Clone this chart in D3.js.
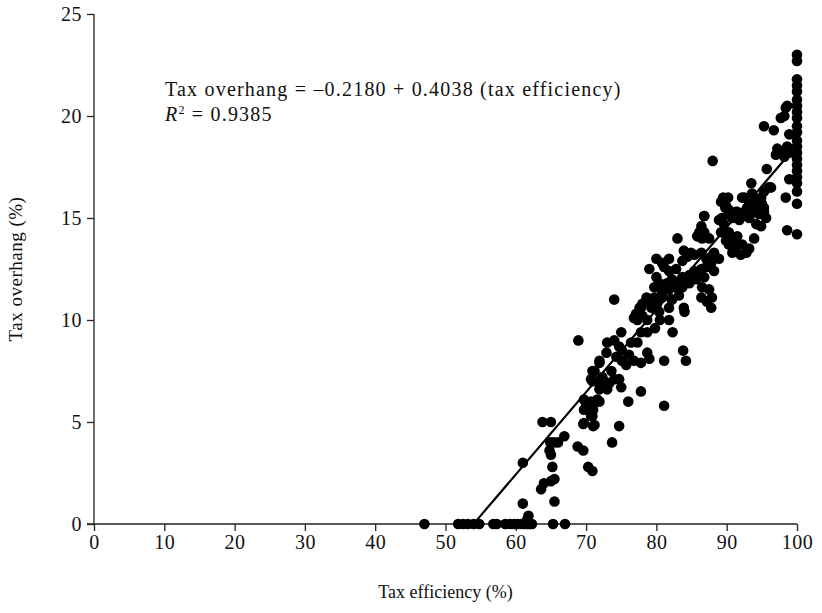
<!DOCTYPE html>
<html>
<head>
<meta charset="utf-8">
<script src="https://cdn.jsdelivr.net/npm/d3@7"></script>
<style>
  html, body { margin: 0; padding: 0; background: #fff; }
  svg { display: block; font-family: "Liberation Serif", "DejaVu Serif", serif; }
</style>
</head>
<body>
<svg id="chart" width="822" height="613"></svg>
<script>
// Tax efficiency (%) and tax overhang (%) for each observation
const taxEfficiency = [
  47, 51.8, 52.5, 53.2, 54, 54.8, 56.8, 57.3, 58.5, 59.2, 59.8, 60.3, 60.8, 61.2, 61.6, 62, 62.3, 65.3, 67,
  61.0, 61.0, 61.8, 61.6, 63.6, 64.0, 65.0, 65.5, 65.2, 65.5, 65.0, 64.8, 64.9, 65.4, 66.0, 66.9, 63.8, 65.0,
  68.8, 69.6, 70.3, 70.9, 69.6, 71.0, 70.9, 71.0, 70.0, 70.7, 71.9, 73.7, 74.7, 81.1, 76.0,
  74.0, 68.9, 77.8, 81.1, 82.3, 84.0, 83.8, 84.2, 70.9, 70.9, 71.9, 72.9, 73.0, 74.0, 75.0, 74.7, 75.1, 74.3,
  75.1, 75.7, 73.6, 74.0, 73.3, 73.0, 74.7, 75.0, 72.3, 71.4, 70.7, 71.9, 69.7, 70.0, 70.9, 71.6, 70.7,
  76.4, 77.3, 77.8, 78.7, 76.8, 77.8, 78.7, 79.0, 77.1, 77.3, 76.8, 78.0, 78.7, 77.8, 78.0, 79.0, 78.6, 79.7,
  79.3, 80.1, 80.8, 81.8, 82.2, 83.2, 80.4, 81.8, 72.6, 76.1, 69.7, 71.2, 69.7, 71.9, 71.2, 80.5, 79.8,
  83.0, 86.8, 86.4, 86.1, 86.8, 85.8, 87.5, 86.5,
  89.2, 89.9, 90.3, 89.3, 88.9, 89.6, 90.8, 91.5, 91.8, 92.8, 93.2, 93.9, 94.6, 95.3, 95.6, 94.2, 94.9,
  89.2, 90.3, 89.9, 91.0, 90.3, 91.5, 91.3, 92.2, 92.8, 93.2, 93.9, 92.0, 90.8,
  83.9, 84.9, 85.4, 86.4, 87.1, 87.8, 88.2, 88.9, 87.8, 87.1, 86.4, 85.4, 84.4, 83.7, 80.0, 80.8, 81.8,
  79.0, 80.0, 81.1, 81.8, 82.8, 83.7, 84.7, 84.2, 83.2, 82.2, 81.5, 80.4, 79.7, 80.7, 81.8, 82.8, 83.7,
  84.7, 85.7, 85.8, 86.8, 88.2, 86.5, 87.5, 87.9, 87.2, 87.8, 86.4, 82.2, 80.8, 79.4, 78.6, 77.6, 83.9,
  100, 100, 100, 100, 100, 100, 100, 100, 100, 100, 100, 100, 100, 100, 100, 100, 100, 100, 100, 100, 100, 100,
  98.6, 88.0, 95.3, 96.7, 98.4, 98.2, 98.9, 97.2, 98.6, 97.7, 97.0, 98.9, 98.2, 95.7, 98.9, 98.4,
  93.5, 96.0, 92.2, 93.6, 94.2, 92.9, 94.6, 95.0, 93.9, 95.3, 92.2, 91.3, 90.3, 89.5, 90.2, 89.8, 90.9, 86.8,
  98.6, 95.3, 96.3, 94.9, 92.5, 93.2, 97.7
];
const taxOverhang = [
  0, 0, 0, 0, 0, 0, 0, 0, 0, 0, 0, 0, 0, 0, 0, 0, 0, 0, 0,
  3.0, 1.0, 0.4, 0.2, 1.7, 2.0, 2.1, 2.2, 2.8, 1.1, 3.4, 3.6, 4.0, 4.0, 4.0, 4.3, 5.0, 5.0,
  3.8, 3.6, 2.8, 2.6, 4.9, 4.8, 5.3, 5.6, 5.9, 6.0, 6.0, 4.0, 4.8, 5.8, 6.0,
  11.0, 9.0, 6.5, 8.0, 9.4, 10.4, 8.5, 8.0, 7.5, 7.0, 8.0, 8.4, 8.9, 9.0, 9.4, 8.7, 8.5, 8.2,
  8.0, 7.8, 7.5, 7.1, 6.9, 6.6, 7.1, 6.7, 7.2, 7.0, 7.1, 6.6, 6.1, 5.7, 5.8, 6.1, 5.3,
  8.9, 8.9, 9.4, 9.4, 8.0, 7.9, 8.4, 8.1, 10.3, 10.0, 10.1, 10.2, 10.0, 10.6, 10.8, 11.0, 11.1, 11.1,
  10.6, 10.8, 11.2, 10.6, 11.0, 11.2, 10.4, 10.0, 7.0, 8.3, 5.6, 4.85, 4.95, 7.9, 7.5, 10.0, 9.6,
  14.0, 15.1, 14.6, 14.3, 14.3, 14.1, 14.0, 14.0,
  15.8, 15.6, 15.2, 15.0, 14.9, 14.7, 15.0, 15.3, 14.9, 15.4, 15.0, 15.6, 15.2, 15.5, 15.0, 14.7, 14.6,
  14.3, 14.3, 13.9, 13.9, 13.7, 14.1, 13.6, 13.7, 13.3, 13.5, 14.0, 13.2, 13.3,
  13.4, 13.3, 13.2, 13.3, 13.0, 13.1, 13.3, 13.0, 12.8, 12.6, 12.5, 12.4, 13.1, 12.9, 13.0, 12.8, 13.0,
  12.5, 12.1, 12.6, 12.4, 12.5, 12.1, 12.2, 12.0, 11.9, 12.0, 11.8, 11.8, 11.6, 11.5, 11.5, 11.6, 11.6,
  11.8, 12.0, 12.1, 12.1, 12.4, 11.6, 11.5, 11.1, 10.9, 10.6, 11.1, 11.0, 11.1, 10.8, 11.0, 10.6, 10.6,
  23.0, 22.7, 21.8, 21.5, 21.2, 20.8, 20.5, 20.2, 19.9, 19.5, 19.2, 18.8, 18.5, 18.2, 17.9, 17.6, 17.3, 17.0, 16.7, 16.3, 15.7, 14.2,
  14.4, 17.8, 19.5, 19.3, 20.4, 20.0, 19.1, 18.4, 18.5, 18.2, 18.1, 18.2, 18.0, 17.4, 16.9, 16.0,
  16.7, 16.5, 16.0, 16.2, 15.9, 15.5, 15.5, 15.7, 15.3, 15.3, 15.1, 15.3, 15.4, 16.0, 16.0, 15.5, 15.1, 15.1,
  20.5, 16.3, 16.5, 16.0, 16.0, 15.7, 19.9
];

// Axis ticks
const xTicks = [0, 10, 20, 30, 40, 50, 60, 70, 80, 90, 100];
const yTicks = [0, 5, 10, 15, 20, 25];

// Fitted regression (fractions): overhang = intercept + slope * efficiency
const fitIntercept = -0.2180;
const fitSlope = 0.4038;
const fitR2 = 0.9385;
const fitRange = [54, 99];

const svg = d3.select("#chart");
const margin = { left: 94, right: 24, top: 14, bottom: 89 };
const width = 822, height = 613;

const x = d3.scaleLinear().domain([0, 100]).range([margin.left, width - margin.right - 1]);
const y = d3.scaleLinear().domain([0, 25]).range([height - margin.bottom, margin.top]);

const axisColor = "#222";
const tickFont = "20px";
const labelFont = "20px";

// Bottom axis
const xAxis = svg.append("g")
  .attr("transform", `translate(0,${y(0)})`)
  .call(d3.axisBottom(x).tickValues(xTicks).tickSize(7).tickPadding(4).tickFormat(d3.format("d")));
// Left axis
const yAxis = svg.append("g")
  .attr("transform", `translate(${x(0)},0)`)
  .call(d3.axisLeft(y).tickValues(yTicks).tickSize(7).tickPadding(5).tickFormat(d3.format("d")));

[xAxis, yAxis].forEach(g => {
  g.select(".domain").attr("stroke", axisColor).attr("stroke-width", 1.3);
  g.selectAll(".tick line").attr("stroke", axisColor).attr("stroke-width", 1.3);
  g.selectAll(".tick text")
    .attr("fill", "#111")
    .style("font-family", "'Liberation Serif', serif")
    .style("font-size", tickFont)
    .style("letter-spacing", "0.5px");
});
// drop the outer end caps of the domain paths
xAxis.select(".domain").attr("d", `M${x(0) - 7},0H${x(100)}`);
yAxis.select(".domain").attr("d", `M0,${y(25)}V${y(0)}`);

// Scatter points
const pts = taxEfficiency.map((e, i) => ({ e, o: taxOverhang[i] }));
svg.append("g")
  .selectAll("circle")
  .data(pts)
  .join("circle")
  .attr("cx", d => x(d.e))
  .attr("cy", d => y(d.o))
  .attr("r", 5.3)
  .attr("fill", "#000");

// Regression line
const fitLine = fitRange.map(e => ({ e, o: 100 * (fitIntercept + fitSlope * e / 100) }));
svg.append("path")
  .datum(fitLine)
  .attr("d", d3.line().x(d => x(d.e)).y(d => y(Math.max(0, d.o))))
  .attr("stroke", "#000")
  .attr("stroke-width", 2.2)
  .attr("fill", "none");

// Equation annotation
svg.append("text")
  .attr("x", 165).attr("y", 96)
  .style("font-size", labelFont).style("letter-spacing", "1.2px").attr("fill", "#111")
  .text(`Tax overhang = \u2013${Math.abs(fitIntercept).toFixed(4)} + ${fitSlope.toFixed(4)} (tax efficiency)`);

const r2 = svg.append("text")
  .attr("x", 165).attr("y", 121)
  .style("font-size", labelFont).style("letter-spacing", "1.2px").attr("fill", "#111");
r2.append("tspan").style("font-style", "italic").text("R");
r2.append("tspan").attr("dy", -7).style("font-size", "12px").text("2");
r2.append("tspan").attr("dy", 7).text(` = ${fitR2.toFixed(4)}`);

// Axis titles
svg.append("text")
  .attr("x", (x(0) + x(100)) / 2).attr("y", 598)
  .attr("text-anchor", "middle")
  .style("font-size", "18px").attr("fill", "#111")
  .text("Tax efficiency (%)");

svg.append("text")
  .attr("transform", `translate(22,${(y(0) + y(25)) / 2}) rotate(-90)`)
  .attr("text-anchor", "middle")
  .style("font-size", "19px").style("letter-spacing", "0.5px").attr("fill", "#111")
  .text("Tax overhang (%)");
</script>
</body>
</html>
